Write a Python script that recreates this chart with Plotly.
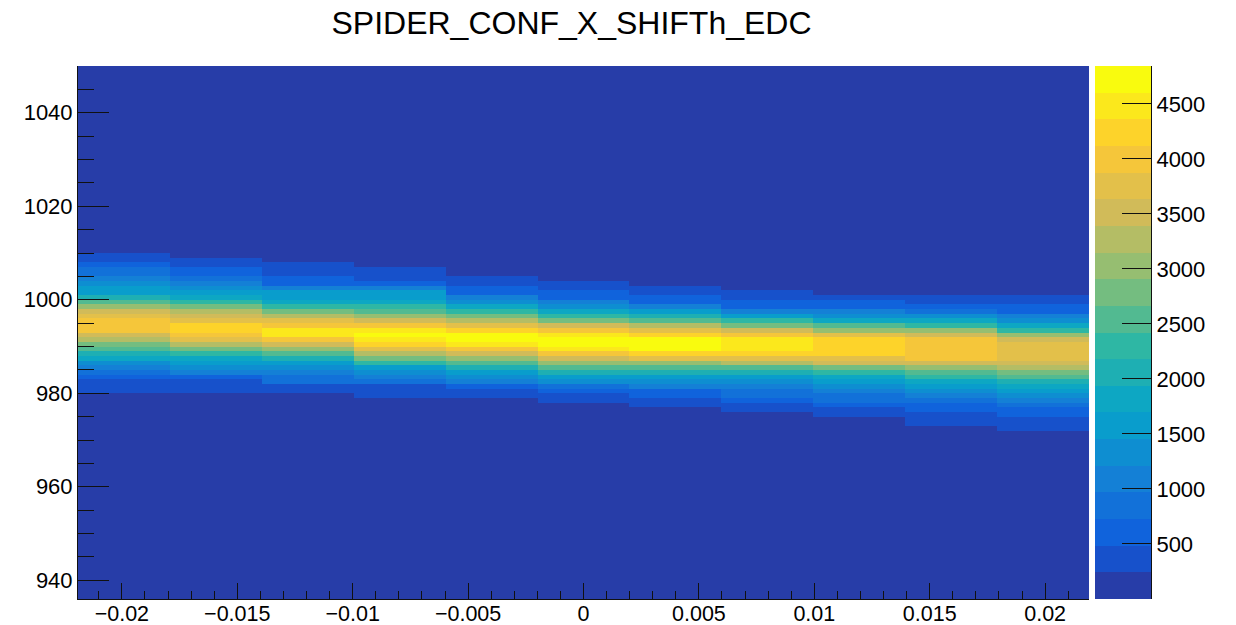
import numpy as np
import plotly.graph_objects as go

# ---- histogram definition -------------------------------------------------
TITLE = "SPIDER_CONF_X_SHIFTh_EDC"
X_LOW, X_HIGH, N_XBINS = -0.0219, 0.0219, 11
Y_LOW, Y_HIGH = 936, 1050          # unit-width bins in y

# highest occupied y bin (lower edge) in each x column
col_top_bin = [1009, 1008, 1007, 1006, 1004, 1003, 1002, 1001, 1000, 1000, 1000]

# bin contents of each x column, listed from the top bin downwards
col1 = [318, 452, 640, 823, 905, 1112, 1374, 1530, 1690, 2105, 2562, 3090, 3460, 3790, 3930,
        4080, 4010, 3450, 3215, 2720, 2490, 2110, 1790, 1310, 1150, 880, 585, 430, 330, 260]
col2 = [330, 470, 560, 700, 860, 1080, 1320, 1600, 1810, 2290, 2780, 3260, 3520, 3790, 4200,
        4290, 4050, 3700, 3290, 2760, 2330, 1850, 1580, 1300, 1020, 640, 450, 340, 270]
col3 = [300, 390, 470, 590, 700, 1100, 1520, 1660, 1880, 2350, 2810, 3300, 3800, 4020, 4430,
        4520, 3990, 3510, 3050, 2560, 2090, 1600, 1340, 1060, 900, 760, 420, 290]
col4 = [310, 400, 480, 650, 1040, 1490, 1680, 1850, 2310, 2550, 3040, 3550, 4070, 4500, 4700,
        4540, 4250, 3770, 3300, 2800, 2290, 1640, 1370, 1100, 830, 460, 370, 280]
col5 = [330, 470, 560, 690, 1010, 1290, 1760, 2260, 2780, 3290, 3740, 4260, 4690, 4790, 4420,
        4050, 3540, 3080, 2580, 2080, 1570, 1340, 1070, 620, 400, 300]
col6 = [340, 460, 580, 700, 1030, 1300, 1800, 2270, 2750, 3460, 3990, 4510, 4845, 4760, 4440,
        3950, 3480, 3010, 2530, 2020, 1560, 1280, 900, 600, 420, 290]
col7 = [350, 470, 550, 710, 1060, 1510, 2010, 2490, 3250, 3730, 4250, 4630, 4780, 4680, 4200,
        3700, 3070, 2540, 2050, 1580, 1310, 1000, 690, 540, 400, 300]
col8 = [340, 460, 580, 700, 1050, 1540, 2230, 2720, 3440, 3960, 4390, 4560, 4470, 4190, 3720,
        3230, 2520, 2040, 1520, 1280, 1040, 890, 780, 560, 410, 300]
col9 = [420, 540, 690, 1020, 1350, 1760, 2490, 3000, 3700, 4180, 4290, 4330, 4200, 3810, 3450,
        2780, 2290, 1790, 1560, 1300, 1040, 900, 760, 590, 410, 300]
col10 = [370, 470, 580, 810, 1320, 1740, 2250, 2990, 3480, 3900, 4010, 4080, 4050, 3930, 3540,
         3050, 2590, 2250, 1800, 1560, 1300, 1080, 850, 680, 530, 420, 340, 260]
col11 = [370, 460, 560, 700, 1020, 1300, 1750, 2230, 2960, 3420, 3680, 3800, 3850, 3750, 3450,
         3200, 2750, 2500, 2000, 1750, 1540, 1300, 1060, 820, 640, 510, 430, 340, 260]
columns = [col1, col2, col3, col4, col5, col6, col7, col8, col9, col10, col11]

x_tick_vals = [-0.02, -0.015, -0.01, -0.005, 0, 0.005, 0.01, 0.015, 0.02]
x_tick_text = ["\u22120.02", "\u22120.015", "\u22120.01", "\u22120.005", "0",
               "0.005", "0.01", "0.015", "0.02"]
y_tick_vals = [940, 960, 980, 1000, 1020, 1040]
z_tick_vals = [500, 1000, 1500, 2000, 2500, 3000, 3500, 4000, 4500]
N_CONTOURS = 20

# ---- fill the 2D bin array ------------------------------------------------
x_edges = np.linspace(X_LOW, X_HIGH, N_XBINS + 1)
y_edges = np.arange(Y_LOW, Y_HIGH + 1)
z = np.zeros((len(y_edges) - 1, N_XBINS))
for j, (top, counts) in enumerate(zip(col_top_bin, columns)):
    for k, c in enumerate(counts):
        z[top - k - Y_LOW, j] = c
zmax = z.max()

# ---- ROOT "kBird" palette, sampled into 20 contour colours ---------------
stops = np.linspace(0, 1, 9)
red = [0.2082, 0.0592, 0.0780, 0.0232, 0.1802, 0.5301, 0.8186, 0.9956, 0.9764]
green = [0.1664, 0.3599, 0.5041, 0.6419, 0.7178, 0.7492, 0.7328, 0.7862, 0.9832]
blue = [0.5293, 0.8684, 0.8385, 0.7914, 0.6425, 0.4662, 0.3499, 0.1968, 0.0539]
n_pal = 255
level_colors = []
for i in range(N_CONTOURS):
    idx = int((i + 0.99) * n_pal / N_CONTOURS)
    t = min(idx, n_pal - 1) / (n_pal - 1)
    r, g, b = (np.interp(t, stops, ch) for ch in (red, green, blue))
    level_colors.append(f"rgb({int(round(r*255))},{int(round(g*255))},{int(round(b*255))})")
colorscale = []
for i, c in enumerate(level_colors):
    colorscale.append([i / N_CONTOURS, c])
    colorscale.append([(i + 1) / N_CONTOURS, c])

# palette box: one cell per contour level, drawn on its own axes
pal_edges = np.linspace(0, zmax, N_CONTOURS + 1)
pal_z = ((pal_edges[:-1] + pal_edges[1:]) / 2).reshape(-1, 1)

# ---- figure ---------------------------------------------------------------
FONT = "Liberation Sans, Arial, Helvetica, sans-serif"
W, H = 1236, 625
ML, MR, MT, MB = 78, 85, 66, 26
paper_w = W - ML - MR
frame_right = 1089
pal_left, pal_right = 1095, 1151

fig = go.Figure()
fig.add_trace(go.Heatmap(
    x=x_edges, y=y_edges, z=z, zmin=0, zmax=zmax, zsmooth=False,
    colorscale=colorscale, showscale=False, hoverinfo="skip",
    xaxis="x", yaxis="y",
))
fig.add_trace(go.Heatmap(
    x=[0, 1], y=pal_edges, z=pal_z, zmin=0, zmax=zmax, zsmooth=False,
    colorscale=colorscale, showscale=False, hoverinfo="skip",
    xaxis="x2", yaxis="y2",
))

tick_style = dict(ticks="inside", tickwidth=1, tickcolor="#111")
font_ticks = dict(family=FONT, size=22, color="black")

fig.update_layout(
    width=W, height=H, autosize=False,
    margin=dict(l=ML, r=MR, t=MT, b=MB, pad=0),
    paper_bgcolor="white", plot_bgcolor="white",
    font=dict(family=FONT, color="black"),
    showlegend=False,
    title=dict(text=TITLE, x=571.5 / W, xref="container", xanchor="center",
               y=1 - 23 / H, yref="container", yanchor="middle",
               font=dict(family=FONT, size=32, color="black")),
    xaxis=dict(
        domain=[0, (frame_right - ML) / paper_w],
        range=[X_LOW, X_HIGH], showgrid=False, zeroline=False, automargin=False,
        showline=True, linecolor="#111", linewidth=1,
        tickmode="array", tickvals=x_tick_vals, ticktext=x_tick_text,
        ticklen=16, **tick_style, ticklabelstandoff=-5,
        minor=dict(tickmode="linear", tick0=0, dtick=0.001, ticklen=8, **tick_style),
        tickfont=dict(family=FONT, size=21.5, color="black"), layer="above traces",
    ),
    yaxis=dict(
        range=[Y_LOW, Y_HIGH], showgrid=False, zeroline=False, automargin=False,
        showline=True, linecolor="#111", linewidth=1,
        tickmode="array", tickvals=y_tick_vals,
        ticklen=31, **tick_style,
        minor=dict(tickmode="linear", tick0=0, dtick=5, ticklen=16, **tick_style),
        tickfont=font_ticks, layer="above traces",
    ),
    xaxis2=dict(
        domain=[(pal_left - ML) / paper_w, 1], range=[0, 1], anchor="y2",
        showgrid=False, zeroline=False, showticklabels=False, ticks="",
        showline=False, automargin=False,
    ),
    yaxis2=dict(
        domain=[0, 1], range=[0, zmax], anchor="x2", side="right",
        showgrid=False, zeroline=False, automargin=False,
        showline=True, linecolor="#111", linewidth=1,
        tickmode="array", tickvals=z_tick_vals, ticklen=29, **tick_style,
        tickfont=font_ticks, layer="above traces",
    ),
)

fig.write_html("out.html")
